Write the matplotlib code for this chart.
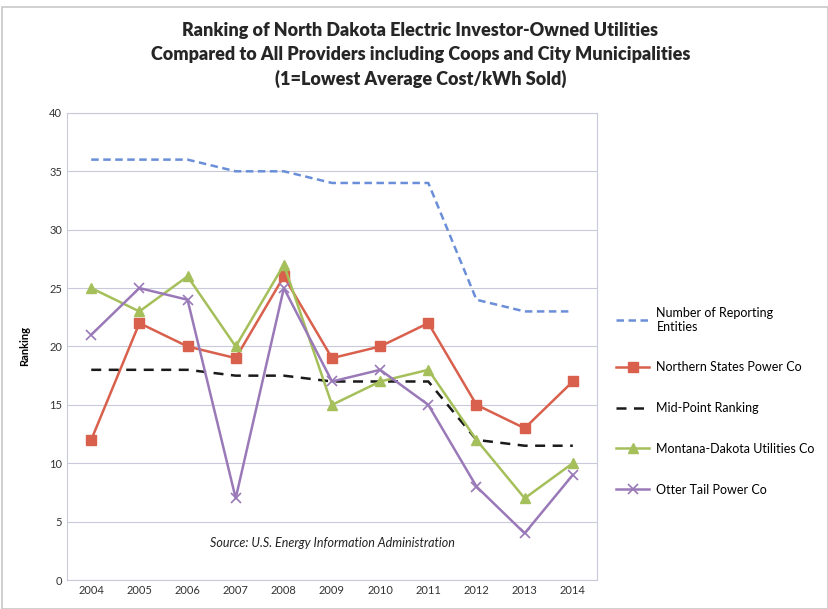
import matplotlib.pyplot as plt
from matplotlib.patches import Rectangle

plt.rcParams['font.family'] = ['Lato', 'DejaVu Sans']

years = [2004, 2005, 2006, 2007, 2008, 2009, 2010, 2011, 2012, 2013, 2014]
reporting = [36, 36, 36, 35, 35, 34, 34, 34, 24, 23, 23]
nsp = [12, 22, 20, 19, 26, 19, 20, 22, 15, 13, 17]
midpoint = [18, 18, 18, 17.5, 17.5, 17, 17, 17, 12, 11.5, 11.5]
mdu = [25, 23, 26, 20, 27, 15, 17, 18, 12, 7, 10]
otter = [21, 25, 24, 7, 25, 17, 18, 15, 8, 4, 9]

fig = plt.figure(figsize=(8.29, 6.09), dpi=100)
fig.patches.append(Rectangle((0.003, 0.0), 0.996, 0.988, transform=fig.transFigure,
                             fill=False, edgecolor='#c8c8c8', lw=1.2))
ax = fig.add_axes([0.081, 0.0476, 0.639, 0.767])

ax.plot(years, reporting, color='#6a8fd8', lw=1.8, ls=(0, (3, 1.8)),
        label='Number of Reporting\nEntities')
ax.plot(years, nsp, color='#d8604c', lw=1.8, marker='s', ms=7,
        label='Northern States Power Co')
ax.plot(years, midpoint, color='#1a1a1a', lw=1.8, ls=(0, (4, 3)),
        label='Mid-Point Ranking')
ax.plot(years, mdu, color='#a5bf5a', lw=1.8, marker='^', ms=7,
        label='Montana-Dakota Utilities Co')
ax.plot(years, otter, color='#9a79b8', lw=1.8, marker='x', ms=7, mew=1.2,
        label='Otter Tail Power Co')

ax.set_xlim(2003.5, 2014.5)
ax.set_ylim(0, 40)
ax.set_xticks(years)
ax.set_yticks(range(0, 41, 5))
ax.tick_params(labelsize=8, length=0, colors='#333333')
ax.grid(axis='y', color='#c9c9dc', lw=0.8)
for s in ax.spines.values():
    s.set_color('#c9c9dc')
    s.set_linewidth(0.8)
ax.set_ylabel('Ranking', fontsize=8, fontweight='bold', labelpad=14)

ax.text(0.5, 0.07, 'Source: U.S. Energy Information Administration', transform=ax.transAxes,
        ha='center', fontsize=9, style='italic', color='#222222')

fig.text(0.507, 0.855,
         'Ranking of North Dakota Electric Investor-Owned Utilities\n'
         'Compared to All Providers including Coops and City Municipalities\n'
         '(1=Lowest Average Cost/kWh Sold)',
         ha='center', va='bottom', fontsize=13, fontweight='heavy', color='#262626',
         linespacing=1.5)

fig.legend(loc='upper left', bbox_to_anchor=(0.73, 0.515), frameon=False,
           fontsize=9, labelspacing=2.3, handlelength=2.6, handletextpad=0.6)

fig.savefig('out.png', dpi=100)
